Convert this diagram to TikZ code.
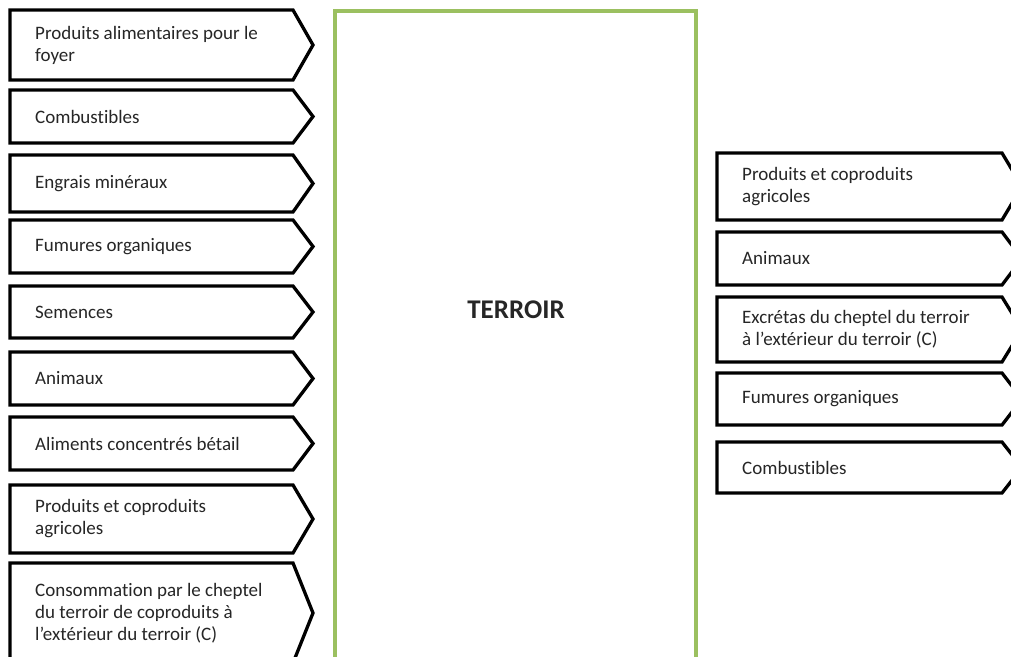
\documentclass[tikz,border=0pt]{standalone}
\usepackage{fontspec}
\setmainfont{Carlito}[Ligatures={NoCommon}]
\definecolor{terroirgreen}{RGB}{155,192,96}
\begin{document}
\begin{tikzpicture}[x=1pt,y=-1pt,
	flux/.style={draw=black,line width=3.3pt,fill=white},
	fluxtext/.style={anchor=west,align=left,inner sep=0pt,text=black!85,font=\fontsize{19}{22}\selectfont}]
	\useasboundingbox (0,0) rectangle (1011,656);
	\clip (0,0) rectangle (1011,656);
	% terroir
	\draw[terroirgreen,line width=4pt] (335,11) rectangle (696,680);
	\node[font=\bfseries\fontsize{27}{32}\selectfont,text=black!85] (terroir) at (516,310) {TERROIR};
	% entrees
	\foreach \t/\b/\lbl [count=\i] in {10/80/{Produits alimentaires pour le\\foyer},90/143/{Combustibles},155/212/{Engrais minéraux},220/273/{Fumures organiques},286/338/{Semences},352/405/{Animaux},417/470/{Aliments concentrés bétail},485/553/{Produits et coproduits\\agricoles},563/663/{Consommation par le cheptel\\du terroir de coproduits à\\l’extérieur du terroir (C)}}
	{
		\draw[flux] (10,\t) -- (293,\t) -- (313,{(\t+\b)/2}) -- (293,\b) -- (10,\b) -- cycle;
		\node[fluxtext] (in\i) at (35,{(\t+\b)/2}) {\lbl};
	}
	% sorties
	\foreach \t/\b/\lbl [count=\i] in {153/220/{Produits et coproduits\\agricoles},232/285/{Animaux},297/362/{Excrétas du cheptel du terroir\\à l’extérieur du terroir (C)},373/425/{Fumures organiques},442/493/{Combustibles}}
	{
		\draw[flux] (717,\t) -- (1002,\t) -- (1022,{(\t+\b)/2}) -- (1002,\b) -- (717,\b) -- cycle;
		\node[fluxtext] (out\i) at (742,{(\t+\b)/2}) {\lbl};
	}
\end{tikzpicture}
\end{document}
